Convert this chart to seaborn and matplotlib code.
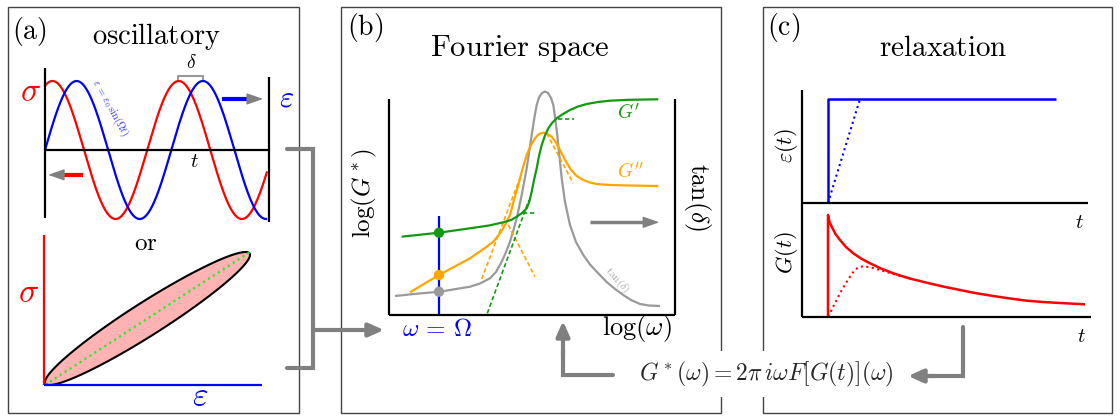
import numpy as np
import matplotlib
matplotlib.use("Agg")
import matplotlib.pyplot as plt
import seaborn as sns
from matplotlib.patches import Rectangle

sns.set_style("white")
plt.rcParams["mathtext.fontset"] = "cm"
plt.rcParams["font.family"] = ["DejaVu Sans"]

# ------------------------------------------------------------------ data
# (a) oscillatory test: strain eps = eps0 sin(Omega t), stress leads by delta
osc_t_end = 11.05          # end of the time window [rad]
osc_amplitude = 1.0
osc_phase_lag = 1.2        # delta [rad]
loop_phase = 0.3           # phase used for the sigma-epsilon loop
loop_eps_center, loop_eps_amp = 10.35, 10.25
loop_sig_center, loop_sig_amp = 6.65, 6.65

# (b) Fourier space (arbitrary log units)
tand_logw = [0.6, 3.0, 5.1, 7.0, 8.1, 9.1, 10.1, 10.7, 11.27, 11.7, 12.1, 12.45,
             12.77, 13.27, 13.77, 14.27, 14.55, 14.77, 15.0, 15.3, 15.6, 15.9,
             16.2, 16.43, 16.63, 16.83, 17.05, 17.27, 17.6, 18.1, 18.7, 19.43,
             20.1, 20.77, 21.77, 22.6, 23.43, 24.2, 25.1, 26.0, 27.1]
tand_val = [1.9, 2.15, 2.33, 2.65, 2.83, 3.15, 3.67, 4.3, 5.33, 6.3, 7.33, 8.5,
            9.67, 12.0, 14.67, 18.0, 19.8, 21.0, 21.75, 22.2, 22.35, 22.2,
            21.7, 21.0, 19.6, 18.0, 15.8, 13.67, 11.3, 9.0, 7.3, 6.0,
            5.05, 4.33, 3.3, 2.6, 2.0, 1.5, 1.1, 0.95, 0.9]
gp_logw = [1.27, 5.0, 8.1, 10.0, 11.43, 12.2, 12.77, 13.3, 13.77, 14.05, 14.27,
           14.5, 14.77, 15.0, 15.27, 15.6, 15.93, 16.3, 16.77, 17.4, 18.1, 18.9,
           19.77, 20.9, 22.1, 24.0, 26.93]
gp_val = [7.83, 8.23, 8.67, 8.95, 9.27, 9.5, 9.83, 10.2, 10.67, 11.4, 12.33,
          13.5, 14.67, 15.9, 17.0, 17.95, 18.67, 19.2, 19.67, 20.1, 20.5, 20.85,
          21.1, 21.3, 21.43, 21.52, 21.57]
gpp_logw = [2.1, 5.0, 8.1, 9.77, 10.5, 11.1, 11.6, 12.1, 12.5, 12.93, 13.35,
            13.77, 14.2, 14.6, 15.0, 15.43, 15.85, 16.27, 16.7, 17.1, 17.6, 18.1,
            18.7, 19.43, 20.1, 20.77, 22.1, 24.0, 26.93]
gpp_val = [2.27, 4.0, 5.67, 6.83, 7.4, 8.17, 9.0, 10.0, 11.5, 13.0, 14.6,
           16.0, 17.0, 17.67, 18.1, 18.23, 18.1, 17.83, 17.25, 16.5, 15.5, 14.67,
           13.95, 13.5, 13.25, 13.1, 13.0, 12.95, 12.9]
gpp_asym = [([9.27, 13.1], [3.6, 13.7]),
            ([11.93, 14.6], [9.0, 3.83]),
            ([15.77, 18.43], [18.17, 13.17])]
gp_asym = [([9.83, 14.0], [0.17, 11.5]),
           ([13.43, 14.7], [10.23, 10.23]),
           ([16.93, 18.5], [19.57, 19.57])]
probe_logw = 5.0
probe_gp, probe_gpp, probe_tand = 8.23, 4.0, 2.33

# (c) relaxation (arbitrary units)
step_t = [2.6, 2.6, 25.4]
step_eps = [0, 10.4, 10.4]
ramp_t = [2.6, 5.8]
ramp_eps = [0, 10.4]
relax_t = [2.6, 2.6, 2.75, 2.97, 3.35, 3.8, 4.4, 5.13, 5.9, 6.8, 7.9, 9.13, 10.7,
           12.47, 14.1, 15.8, 17.4, 19.13, 20.8, 22.47, 24.1, 25.8, 28.3]
relax_G = [0, 10.2, 9.5, 9.03, 8.3, 7.7, 7.0, 6.37, 5.85, 5.37, 4.85, 4.37, 3.87,
           3.43, 3.05, 2.7, 2.38, 2.1, 1.85, 1.63, 1.5, 1.4, 1.27]
ramp_relax_t = [2.63, 3.2, 3.8, 4.3, 4.8, 5.2, 5.63, 6.0, 6.47, 7.1, 7.8, 8.8, 9.8, 11.1]
ramp_relax_G = [0.03, 1.2, 2.37, 3.25, 4.03, 4.6, 4.97, 5.05, 5.03, 4.9, 4.7, 4.4, 4.1, 3.77]

# ------------------------------------------------------------------ colours
RED, BLUE, GREEN, ORANGE = "#ff0000", "#0000ff", "#129912", "#ffa500"
GRAY, LGRAY, CGRAY = "#9a9a9a", "#aaaaaa", "#808080"
DASH = (0, (2.6, 1.6))

W, H = 1120, 416
fig = plt.figure(figsize=(W / 100, H / 100), dpi=100)


def add_ax(x0, y0, x1, y1, z=2):
    ax = fig.add_axes([x0 / W, 1 - y1 / H, (x1 - x0) / W, (y1 - y0) / H])
    ax.set_axis_off()
    ax.patch.set_alpha(0)
    ax.set_zorder(z)
    return ax


def line(ax, x, y, color, lw=1.5, ls="-", z=3, clip=False):
    n = len(ax.lines)
    sns.lineplot(x=np.asarray(x, float), y=np.asarray(y, float), ax=ax, color=color,
                 linewidth=lw, linestyle=ls, sort=False, estimator=None, zorder=z)
    for ln in ax.lines[n:]:
        ln.set_clip_on(clip)
        ln.set_solid_capstyle("butt")
        ln.set_solid_joinstyle("round")


def arrow(ax, tail, tip, color=CGRAY, lw=3, hl=0.9, hw=0.4):
    ax.annotate("", xy=tip, xytext=tail,
                arrowprops=dict(arrowstyle=f"-|>,head_length={hl},head_width={hw}",
                                color=color, lw=lw, shrinkA=0, shrinkB=0))


# ------------------------------------------------------------------ overlay
ov = fig.add_axes([0, 0, 1, 1])
ov.set_xlim(0, W)
ov.set_ylim(H, 0)
ov.set_axis_off()
ov.set_zorder(0)
for x0, x1 in [(8, 299), (341, 721), (763, 1112)]:
    ov.add_patch(Rectangle((x0, 7), x1 - x0, 406, fill=False, edgecolor="#444444", lw=1.0))

# connectors
ov.plot([287, 313, 313, 287], [149, 149, 368, 368], color=CGRAY, lw=3, solid_joinstyle="miter")
arrow(ov, (313, 330), (384, 330))
ov.plot([963, 963, 930], [327, 376, 376], color=CGRAY, lw=3, solid_joinstyle="miter")
arrow(ov, (935, 376), (908, 376))
ov.plot([613, 563, 563], [375, 375, 350], color=CGRAY, lw=3, solid_joinstyle="miter")
arrow(ov, (563, 355), (563, 321))


def T(x, y, s, fs, color="black", rot=0, **kw):
    ov.text(x, y, s, fontsize=fs, color=color, rotation=rot, ha="center", va="center",
            rotation_mode="anchor", **kw)


T(29, 31, r"$\mathrm{(a)}$", 20)
T(156, 36, r"$\mathrm{oscillatory}$", 20.5)
T(30, 92, r"$\sigma$", 24, RED)
T(287, 98, r"$\varepsilon$", 22, BLUE)
T(194, 161, r"$t$", 15)
T(191, 63, r"$\delta$", 14)
T(110, 108, r"$\varepsilon\,=\,\varepsilon_0\,\sin(\Omega t)$", 7.5, "#3333ff", rot=-61)
T(146, 243, r"$\mathrm{or}$", 18)
T(28, 293, r"$\sigma$", 24, RED)
T(200, 396, r"$\varepsilon$", 24, BLUE)
T(106, 345, r"$W_d$", 14)

T(365, 28, r"$\mathrm{(b)}$", 20)
T(520, 48, r"$\mathrm{Fourier\ space}$", 22)
T(364, 193, r"$\log(G^*)$", 18, rot=90)
T(697, 197, r"$\tan(\delta)$", 18.5, rot=-90)
T(637, 329, r"$\log(\omega)$", 19)
T(437, 329, r"$\omega\,=\,\Omega$", 18, BLUE)
T(629, 113, r"$G'$", 14, GREEN)
T(631, 172, r"$G''$", 14, ORANGE)
T(617, 280, r"$\tan(\delta)$", 8, LGRAY, rot=-48)

T(784, 28, r"$\mathrm{(c)}$", 20)
T(943, 48, r"$\mathrm{relaxation}$", 21)
T(787, 145, r"$\varepsilon(t)$", 16, rot=90)
T(787, 253, r"$G(t)$", 16, rot=90)
T(1079, 222, r"$t$", 15)
T(1081, 336, r"$t$", 15)
ov.text(766, 374, r"$G^*(\omega) = 2\pi\, i\omega F[G(t)](\omega)$", fontsize=17,
        ha="center", va="center", zorder=5,
        bbox=dict(boxstyle="square,pad=0.35", facecolor="white", edgecolor="none"))

# ------------------------------------------------------------------ (a) top
px_per_rad = 20.1
axA = add_ax(44, 60, 269, 228)
axA.set_xlim(-1 / px_per_rad, 224 / px_per_rad)
axA.set_ylim((150 - 228) / 69, (150 - 60) / 69)
t = np.linspace(0, osc_t_end, 500)
strain = osc_amplitude * np.sin(t)
stress = osc_amplitude * np.sin(t + osc_phase_lag)
line(axA, t, stress, RED, 1.6)
line(axA, t, strain, BLUE, 1.6)
x_end = 224 / px_per_rad
line(axA, [0, 0], [-0.986, 1.19], "black", 1.6, z=4)
line(axA, [x_end, x_end], [-1.04, 1.06], "black", 1.6, z=4)
line(axA, [0, x_end], [0, 0], "black", 1.6, z=4)
# delta bracket
line(axA, [6.62, 6.62, 7.86, 7.86], [1.01, 1.07, 1.07, 1.01], GRAY, 1.5)
# direction arrows
line(axA, [8.8, 10.3], [0.74, 0.74], BLUE, 3)
arrow(axA, (10.2, 0.74), (10.85, 0.74), lw=1, hl=1.0, hw=0.35)
line(axA, [1.9, 0.8], [-0.36, -0.36], RED, 3)
arrow(axA, (0.9, -0.36), (0.15, -0.36), lw=1, hl=1.0, hw=0.35)

# ------------------------------------------------------------------ (a) bottom
axL = add_ax(44, 235, 262, 385)
axL.set_xlim(0, 21.8)
axL.set_ylim(0, 15)
s = np.linspace(0, 2 * np.pi, 400)
loop_eps = loop_eps_center + loop_eps_amp * np.sin(s - np.pi / 2)
loop_sig = loop_sig_center + loop_sig_amp * np.sin(s - np.pi / 2 + loop_phase)
axL.fill(loop_eps, loop_sig, facecolor="#ffb3b3", edgecolor="black", lw=1.5, zorder=2,
         clip_on=False)
line(axL, [0.1, 20.6], [0.0, 13.3], "#22ee22", 1.6, ":", z=3)
line(axL, [0, 0], [0, 15], RED, 1.6, z=4)
line(axL, [0, 21.8], [0, 0], BLUE, 1.6, z=4)

# ------------------------------------------------------------------ (b)
axB = add_ax(389, 80, 675, 315)
axB.set_xlim(0, 28.6)
axB.set_ylim(0, 23.5)
line(axB, tand_logw, tand_val, GRAY, 1.6)
for xs, ys in gpp_asym:
    line(axB, xs, ys, ORANGE, 1.2, DASH)
for xs, ys in gp_asym:
    line(axB, xs, ys, GREEN, 1.2, DASH)
line(axB, gpp_logw, gpp_val, ORANGE, 1.6)
line(axB, gp_logw, gp_val, GREEN, 1.6)
line(axB, [probe_logw, probe_logw], [0, 9.9], BLUE, 1.6, z=4)
for yv, c in [(probe_gp, GREEN), (probe_gpp, ORANGE), (probe_tand, GRAY)]:
    sns.scatterplot(x=[probe_logw], y=[yv], ax=axB, color=c, s=55, edgecolor="none", zorder=5)
line(axB, [0, 0], [0, 21.6], "black", 1.6, z=4)
line(axB, [28.55, 28.55], [0, 21.6], "black", 1.6, z=4)
line(axB, [0, 28.6], [0, 0], "black", 1.6, z=4)
line(axB, [20.1, 26.0], [9.27, 9.27], CGRAY, 2.5)
arrow(axB, (25.5, 9.27), (27.03, 9.27), lw=1, hl=1.0, hw=0.35)

# ------------------------------------------------------------------ (c)
axC1 = add_ax(802, 90, 1092, 203)
axC1.set_xlim(0, 29)
axC1.set_ylim(0, 11.3)
line(axC1, step_t, step_eps, BLUE, 1.8)
line(axC1, ramp_t, ramp_eps, BLUE, 1.5, ":")
line(axC1, [0, 0], [0, 11.3], "black", 1.6, z=4)
line(axC1, [0, 28.6], [0, 0], "black", 1.6, z=4)

axC2 = add_ax(802, 203, 1092, 317)
axC2.set_xlim(0, 29)
axC2.set_ylim(0, 11.4)
line(axC2, relax_t, relax_G, RED, 1.8)
line(axC2, ramp_relax_t, ramp_relax_G, RED, 1.5, ":")
line(axC2, [0, 0], [0, 11.4], "black", 1.6, z=4)
line(axC2, [0, 28.9], [0, 0], "black", 1.6, z=4)

fig.savefig("out.png", dpi=100)
